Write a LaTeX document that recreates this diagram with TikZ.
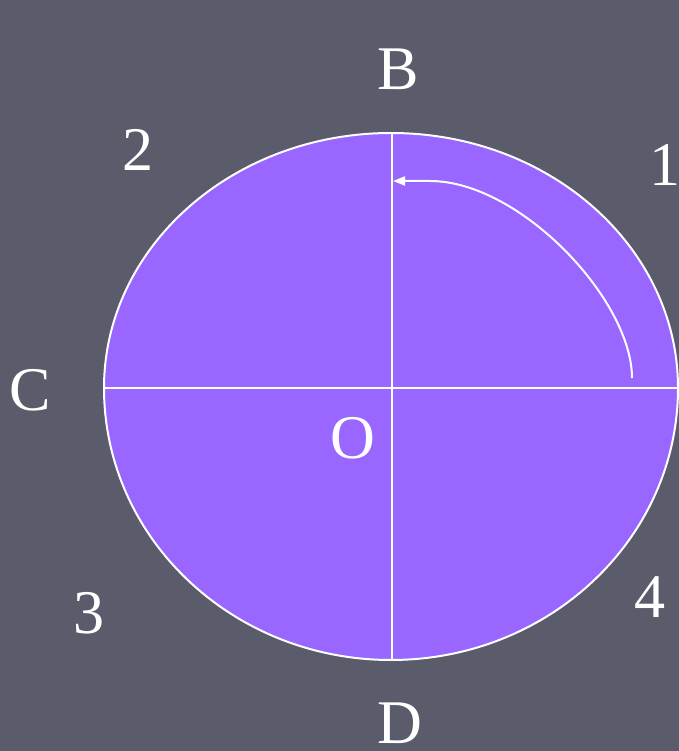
\documentclass[tikz,border=0pt]{standalone}
\usepackage{fontspec}
\setmainfont{Liberation Serif}
\usetikzlibrary{arrows.meta}
\definecolor{bgslate}{HTML}{5A5C6B}
\definecolor{discviolet}{HTML}{9966FF}
\begin{document}
\begin{tikzpicture}[x=0.03cm,y=0.03cm,>={Triangle[length=3.6mm,width=2.7mm]},
  lbl/.style={white,inner sep=0pt,font=\fontsize{53}{60}\selectfont},
  wline/.style={draw=white,line width=1.7pt}]
\fill[bgslate] (0,0) rectangle (679,751);
\useasboundingbox (0,0) rectangle (679,751);
% 圆盘
\coordinate (O) at (391,363);
\coordinate (C) at (104,363);
\coordinate (A) at (678,363);
\coordinate (B) at (392,618);
\coordinate (D) at (392,91);
\filldraw[wline,fill=discviolet] (C) arc[start angle=180,end angle=0,x radius=287,y radius=255]
  arc[start angle=0,end angle=-180,x radius=287,y radius=272] -- cycle;
\draw[wline] (C) -- (A);
\draw[wline] (B) -- (D);
% 转动方向
\coordinate (s) at (632,373);
\coordinate (e) at (393,570);
\draw[wline,white,->] (s) .. controls (632,451) and (520,570) .. (430,570) -- (e);
% 标注
\foreach \t/\x/\y in {B/398/682,D/400/28,C/30/361,O/353/313,1/665/586,2/138/601,3/89/138,4/650/154}
  \node[lbl] (n\t) at (\x,\y) {\t};
\end{tikzpicture}
\end{document}
